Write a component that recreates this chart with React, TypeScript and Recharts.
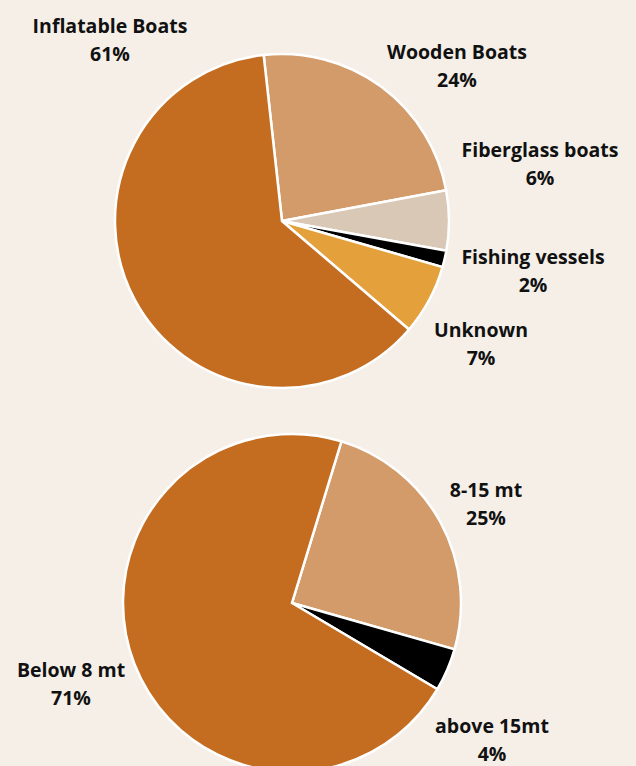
import { PieChart, Pie, Cell } from "recharts";

// top pie: boat types (clockwise from the top)
const boatTypes = ["Wooden Boats", "Fiberglass boats", "Fishing vessels", "Unknown", "Inflatable Boats"];
const boatShares = [23.8, 5.8, 1.6, 6.8, 62.0];
const boatLabels = ["24%", "6%", "2%", "7%", "61%"];

// bottom pie: boat length
const sizeTypes = ["8-15 mt", "above 15mt", "Below 8 mt"];
const sizeShares = [24.7, 4.1, 71.2];
const sizeLabels = ["25%", "4%", "71%"];

const boatColors = ["#d29b69", "#d9c8b5", "#000000", "#e4a03b", "#c46d20"];
const sizeColors = ["#d29b69", "#000000", "#c46d20"];

const boatData = boatTypes.map((name, i) => ({ name, value: boatShares[i], pct: boatLabels[i] }));
const sizeData = sizeTypes.map((name, i) => ({ name, value: sizeShares[i], pct: sizeLabels[i] }));

// label anchor points (center of the first line)
const boatLabelPos = [
  { x: 457, y: 52 },
  { x: 540, y: 150 },
  { x: 533, y: 257 },
  { x: 481, y: 330 },
  { x: 110, y: 26 },
];
const sizeLabelPos = [
  { x: 486, y: 490 },
  { x: 492, y: 726 },
  { x: 71, y: 670 },
];

const font = "'Open Sans', 'DejaVu Sans', sans-serif";

function makeLabel(data: { name: string; pct: string }[], pos: { x: number; y: number }[]) {
  return (props: any) => {
    const i = props.index;
    const p = pos[i];
    return (
      <text
        key={"l" + i}
        x={p.x}
        textAnchor="middle"
        fontFamily={font}
        fontWeight={700}
        fontSize={19.5}
        fill="#111"
      >
        <tspan x={p.x} y={p.y + 7}>{data[i].name}</tspan>
        <tspan x={p.x} y={p.y + 35}>{data[i].pct}</tspan>
      </text>
    );
  };
}

export default function App() {
  return (
    <div style={{ position: "fixed", left: 0, top: 0, width: 636, height: 766, background: "#f5efe8" }}>
      <PieChart width={636} height={766} margin={{ top: 0, right: 0, bottom: 0, left: 0 }}>
        <Pie
          data={boatData}
          dataKey="value"
          cx={282}
          cy={221}
          outerRadius={167}
          startAngle={96.3}
          endAngle={-263.7}
          stroke="#ffffff"
          strokeWidth={2.5}
          labelLine={false}
          label={makeLabel(boatData, boatLabelPos)}
          isAnimationActive={false}
        >
          {boatData.map((d, i) => (
            <Cell key={d.name} fill={boatColors[i]} />
          ))}
        </Pie>
        <Pie
          data={sizeData}
          dataKey="value"
          cx={292}
          cy={603}
          outerRadius={169}
          startAngle={73}
          endAngle={-287}
          stroke="#ffffff"
          strokeWidth={2.5}
          labelLine={false}
          label={makeLabel(sizeData, sizeLabelPos)}
          isAnimationActive={false}
        >
          {sizeData.map((d, i) => (
            <Cell key={d.name} fill={sizeColors[i]} />
          ))}
        </Pie>
      </PieChart>
    </div>
  );
}
